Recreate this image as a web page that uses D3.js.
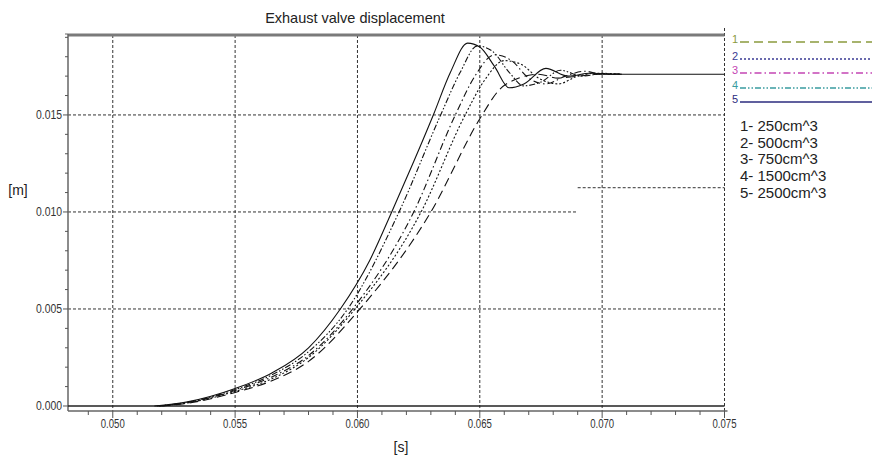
<!DOCTYPE html>
<html>
<head>
<meta charset="utf-8">
<script src="https://cdn.jsdelivr.net/npm/d3@7"></script>
<style>
  html, body { margin: 0; padding: 0; background: #fff; }
  svg { display: block; font-family: "Liberation Sans", Arial, sans-serif; }
</style>
</head>
<body>
<svg id="chart" width="872" height="461"></svg>
<script>
// Exhaust valve lift [m] versus time [s] for five intake volumes.
const volumes = ["250cm^3", "500cm^3", "750cm^3", "1500cm^3", "2500cm^3"];

const lift250 = [
  [0.0520, 0], [0.0530, 0.00013], [0.0550, 0.0007], [0.0565, 0.0013], [0.0580, 0.0023],
  [0.0601, 0.0050], [0.0630, 0.0100], [0.0650, 0.0148], [0.0658, 0.0163], [0.0666, 0.0169],
  [0.0674, 0.0171], [0.0682, 0.0169], [0.0690, 0.0170], [0.0700, 0.0171], [0.0708, 0.0171]
];
const lift500 = [
  [0.0519, 0], [0.0530, 0.00015], [0.0550, 0.00075], [0.0565, 0.0014], [0.0580, 0.0025],
  [0.0599, 0.0050], [0.0626, 0.0100], [0.0644, 0.0150], [0.0652, 0.0168], [0.0660, 0.0178],
  [0.0667, 0.0176], [0.0674, 0.0169], [0.0682, 0.0166], [0.0690, 0.0170], [0.0698, 0.01715],
  [0.0708, 0.0171]
];
const lift750 = [
  [0.0519, 0], [0.0530, 0.00016], [0.0550, 0.0008], [0.0565, 0.0015], [0.0580, 0.0026],
  [0.0598, 0.0050], [0.0623, 0.0100], [0.0640, 0.0150], [0.0648, 0.0170], [0.0656, 0.0181],
  [0.0663, 0.0178], [0.0670, 0.0169], [0.0677, 0.0166], [0.0685, 0.0170], [0.0693, 0.01725],
  [0.0700, 0.0171], [0.0708, 0.0171]
];
const lift1500 = [
  [0.0518, 0], [0.0530, 0.00018], [0.0550, 0.00085], [0.0565, 0.0016], [0.0580, 0.0028],
  [0.0596, 0.0050], [0.0617, 0.0100], [0.0634, 0.0150], [0.0642, 0.0172], [0.0649, 0.01856],
  [0.0655, 0.0183], [0.0662, 0.0172], [0.0668, 0.0165], [0.0675, 0.0167], [0.0683, 0.0173],
  [0.0692, 0.0170], [0.0700, 0.01713], [0.0708, 0.0171]
];
const lift2500 = [
  [0.0517, 0], [0.0530, 0.0002], [0.0550, 0.0009], [0.0565, 0.0017], [0.0580, 0.0030],
  [0.0593, 0.0050], [0.0605, 0.0075], [0.0614, 0.0100], [0.0623, 0.0126], [0.0631, 0.0150],
  [0.0638, 0.0172], [0.0645, 0.0187], [0.0650, 0.0185], [0.0656, 0.0175], [0.0662, 0.0164],
  [0.0668, 0.0166], [0.0677, 0.0174], [0.0686, 0.0170], [0.0695, 0.01715], [0.0705, 0.0171],
  [0.0750, 0.0171]
];
const seriesData = [lift250, lift500, lift750, lift1500, lift2500];

const xTicks = [0.050, 0.055, 0.060, 0.065, 0.070, 0.075];
const yTicks = [0.000, 0.005, 0.010, 0.015];
const xMinorTicks = d3.range(49, 76).map(d => d / 1000);
const yMinorTicks = d3.range(0, 20).map(d => d / 1000);

// Line styles: curve in the plot (black) and its legend sample (coloured)
const dashes = ["9,5", "2,2", "7,3,1.5,3", "6,2,1.5,2,1.5,2", null];
const legendColors = ["#8a9a3e", "#3a3a94", "#c445b4", "#3a9ca0", "#2b2b7e"];

const svg = d3.select("#chart");
const x = d3.scaleLinear().domain([0.04817, 0.075]).range([68, 724.5]);
const y = d3.scaleLinear().domain([-0.000258, 0.01912]).range([411, 35]);
const [x0, x1] = x.range();
const [yB, yT] = y.range();

// Title and axis labels
svg.append("text").attr("x", 355).attr("y", 23).attr("text-anchor", "middle")
  .attr("font-size", 14.5).attr("fill", "#222").text("Exhaust valve displacement");
svg.append("text").attr("x", 18).attr("y", 195).attr("text-anchor", "middle")
  .attr("font-size", 14).attr("fill", "#222").text("[m]");
svg.append("text").attr("x", 401).attr("y", 452).attr("text-anchor", "middle")
  .attr("font-size", 14).attr("fill", "#222").text("[s]");

// Dotted grid
const grid = svg.append("g").attr("stroke", "#333").attr("stroke-width", 1)
  .attr("stroke-dasharray", "3,2").attr("fill", "none");
xTicks.forEach(t => {
  grid.append("line").attr("x1", x(t)).attr("x2", x(t))
    .attr("y1", t === 0.075 ? 28 : yT).attr("y2", yB);
});
[0.005, 0.015].forEach(v => {
  grid.append("line").attr("x1", x0).attr("x2", x1).attr("y1", y(v)).attr("y2", y(v));
});
grid.append("line").attr("x1", x0).attr("x2", x(0.069)).attr("y1", y(0.010)).attr("y2", y(0.010));
grid.append("line").attr("x1", x(0.069)).attr("x2", x1).attr("y1", y(0.01125)).attr("y2", y(0.01125));

// Frame
svg.append("line").attr("x1", x0).attr("x2", x1).attr("y1", yT).attr("y2", yT)
  .attr("stroke", "#7a7a7a").attr("stroke-width", 3);
svg.append("line").attr("x1", x0).attr("x2", x0).attr("y1", yT - 1).attr("y2", yB)
  .attr("stroke", "#666").attr("stroke-width", 1.5);
svg.append("line").attr("x1", x0 - 3).attr("x2", x0).attr("y1", yT - 1).attr("y2", yT - 1)
  .attr("stroke", "#666").attr("stroke-width", 1);
svg.append("line").attr("x1", x0).attr("x2", x1 + 3).attr("y1", yB).attr("y2", yB)
  .attr("stroke", "#666").attr("stroke-width", 1.5);

// Zero reference line
svg.append("line").attr("x1", x0).attr("x2", x1).attr("y1", y(0)).attr("y2", y(0))
  .attr("stroke", "#222").attr("stroke-width", 1.3);

// X ticks and labels
const xAx = svg.append("g").attr("stroke", "#555").attr("stroke-width", 1);
xMinorTicks.forEach(t => {
  const major = xTicks.some(m => Math.abs(m - t) < 1e-9);
  xAx.append("line").attr("x1", x(t)).attr("x2", x(t)).attr("y1", yB).attr("y2", yB + (major ? 7 : 4));
});
svg.append("g").selectAll("text").data(xTicks).join("text")
  .attr("x", d => x(d)).attr("y", yB + 17).attr("text-anchor", "middle")
  .attr("font-size", 12).attr("fill", "#333")
  .attr("textLength", 24).attr("lengthAdjust", "spacingAndGlyphs")
  .text(d => d3.format(".3f")(d));

// Y ticks and labels
const yAx = svg.append("g").attr("stroke", "#555").attr("stroke-width", 1);
yMinorTicks.forEach(v => {
  const major = yTicks.some(m => Math.abs(m - v) < 1e-9);
  yAx.append("line").attr("x1", x0 - (major ? 5 : 3)).attr("x2", x0).attr("y1", y(v)).attr("y2", y(v));
});
svg.append("g").selectAll("text").data(yTicks).join("text")
  .attr("x", x0 - 6).attr("y", d => y(d) + 4).attr("text-anchor", "end")
  .attr("font-size", 12).attr("fill", "#333")
  .attr("textLength", 26).attr("lengthAdjust", "spacingAndGlyphs")
  .text(d => d3.format(".3f")(d));

// Curves
const line = d3.line().x(d => x(d[0])).y(d => y(d[1])).curve(d3.curveMonotoneX);
svg.append("g").selectAll("path").data(seriesData).join("path")
  .attr("d", line).attr("fill", "none").attr("stroke", "#111").attr("stroke-width", 1.1)
  .attr("stroke-dasharray", (d, i) => dashes[i]);

// Legend samples
const legendRows = [42, 59, 73, 88, 102];
const lg = svg.append("g");
volumes.forEach((v, i) => {
  lg.append("text").attr("x", 732).attr("y", legendRows[i] + 1).attr("font-size", 11)
    .attr("fill", legendColors[i]).text(i + 1);
  lg.append("line").attr("x1", 740).attr("x2", 872).attr("y1", legendRows[i]).attr("y2", legendRows[i])
    .attr("stroke", legendColors[i]).attr("stroke-width", 1.4)
    .attr("stroke-dasharray", dashes[i]);
});

// Volume list
svg.append("g").selectAll("text").data(volumes).join("text")
  .attr("x", 740).attr("y", (d, i) => 131 + i * 16.7)
  .attr("font-size", 15).attr("fill", "#222")
  .text((d, i) => `${i + 1}- ${d}`);
</script>
</body>
</html>
